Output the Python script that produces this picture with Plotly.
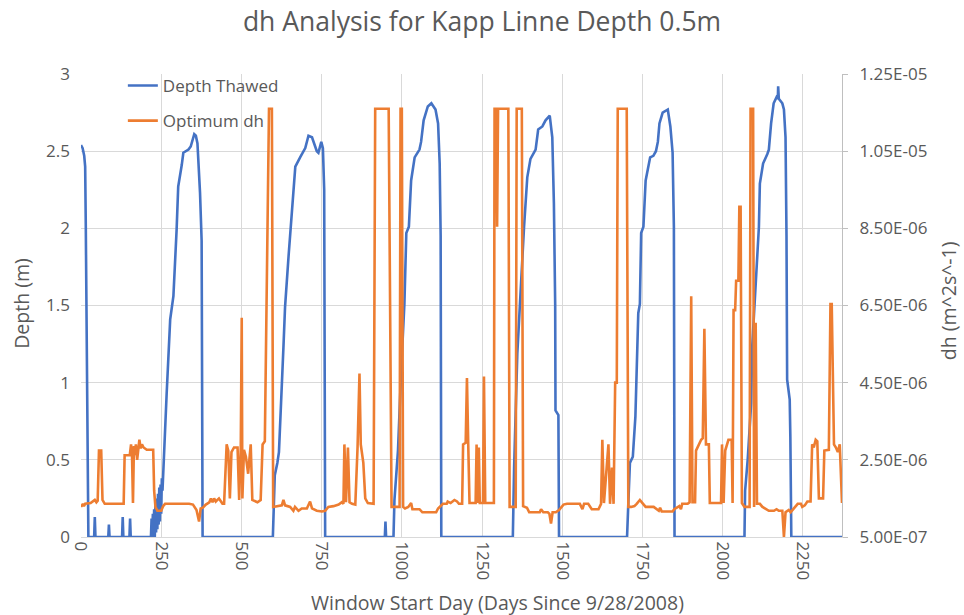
import plotly.graph_objects as go

# Depth thawed (m) against window start day
depth_day = [0, 5, 10, 13, 15, 17, 19, 20, 23, 41, 43, 45, 85, 87, 89, 128, 130, 132, 151, 153, 155,
             218, 220, 222, 224, 226, 228, 230, 232, 234, 236, 238, 240, 242, 244, 246, 248, 250, 252, 254, 257,
             267, 278, 288, 298, 303, 314, 319, 335, 342, 353, 358, 363, 371, 376, 379,
             598, 601, 604, 612, 617, 631, 636, 647, 657, 668, 683, 699, 709, 720, 735, 740, 749, 754, 758, 761,
             947, 949, 951, 974, 977, 988, 998, 1008, 1014, 1022, 1029, 1040, 1055, 1060, 1068, 1081, 1092,
             1105, 1113, 1118, 1121, 1123,
             1346, 1350, 1360, 1370, 1381, 1391, 1401, 1417, 1425, 1438, 1448, 1461, 1469, 1474, 1478, 1479,
             1488, 1490,
             1702, 1706, 1711, 1720, 1728, 1737, 1742, 1746, 1753, 1760, 1774, 1784, 1792, 1798, 1803, 1813,
             1829, 1837, 1844, 1848, 1850,
             2068, 2070, 2078, 2089, 2092, 2102, 2113, 2116, 2126, 2139, 2144, 2151, 2159, 2168, 2172, 2173,
             2175, 2186, 2191, 2196, 2199, 2201, 2209, 2211, 2214, 2372]
depth_m = [2.54, 2.52, 2.47, 2.40, 2.0, 1.4, 0.8, 0.46, 0, 0, 0.13, 0, 0, 0.08, 0, 0, 0.13, 0, 0, 0.12, 0,
           0, 0.12, 0, 0.15, 0.02, 0.18, 0, 0.22, 0.03, 0.25, 0.05, 0.28, 0.08, 0.32, 0.10, 0.34, 0.15, 0.38, 0.30, 0.46,
           0.93, 1.41, 1.56, 1.99, 2.27, 2.41, 2.49, 2.51, 2.53, 2.61, 2.60, 2.55, 2.23, 1.92, 0,
           0, 0.15, 0.40, 0.48, 0.55, 1.23, 1.49, 1.82, 2.12, 2.40, 2.46, 2.52, 2.60, 2.59, 2.50, 2.49, 2.56, 2.52, 2.25, 0,
           0, 0.10, 0, 0, 0.24, 0.56, 1.08, 1.51, 1.97, 2.01, 2.31, 2.46, 2.51, 2.56, 2.70, 2.79, 2.81,
           2.77, 2.68, 2.42, 1.95, 0,
           0, 0.45, 1.19, 1.60, 2.01, 2.33, 2.45, 2.51, 2.64, 2.66, 2.70, 2.73, 2.59, 2.16, 1.51, 0.82,
           0.79, 0,
           0, 0.22, 0.48, 0.52, 0.78, 1.45, 1.51, 1.97, 2.01, 2.31, 2.46, 2.47, 2.50, 2.56, 2.68, 2.75,
           2.77, 2.66, 2.49, 2.01, 0,
           0, 0.30, 0.50, 0.87, 1.23, 1.62, 2.01, 2.29, 2.42, 2.48, 2.51, 2.68, 2.81, 2.85, 2.84, 2.92,
           2.84, 2.81, 2.77, 2.59, 1.95, 1.02, 0.89, 0.65, 0, 0]

# Optimum dh (m^2 s^-1) against window start day
dh_day = [0, 6, 9, 13, 30, 43, 48, 52, 56, 63, 67, 74, 133, 136, 152, 156, 159, 162, 165, 168, 171, 175,
          179, 182, 186, 190, 195, 205, 225, 228, 232, 238, 250, 256, 262, 337, 349, 355, 360, 368, 373, 380,
          389, 400, 405, 410, 415, 420, 425, 430, 441, 446, 454, 459, 464, 469, 477, 488, 493, 498, 501, 503,
          508, 514, 521, 529, 534, 550, 560, 566, 573, 580, 586, 595, 599,
          626, 631, 636, 652, 662, 667, 678, 688, 704, 714, 720, 735, 751, 761, 771, 787, 803, 813, 818,
          821, 826, 832, 837, 845, 855, 862, 868, 872, 880, 886, 894, 912, 917, 959, 968, 993, 996, 1000,
          1004, 1010, 1020, 1029, 1033, 1055, 1064, 1107, 1113, 1128, 1140, 1143, 1152, 1164, 1172, 1178,
          1188, 1191, 1199, 1203, 1207, 1211, 1230, 1233, 1236, 1240, 1243, 1253, 1256, 1260, 1287, 1289,
          1294, 1297, 1300, 1332, 1336, 1355, 1358, 1374, 1378, 1390, 1397, 1430, 1434, 1441, 1455, 1460,
          1465, 1470, 1480, 1490, 1504, 1515, 1555, 1563, 1568, 1581, 1592, 1613, 1621, 1625, 1630, 1637,
          1644, 1649, 1655, 1660, 1665, 1670, 1673, 1701, 1706, 1715, 1725, 1732, 1742, 1750, 1760, 1785,
          1795, 1801, 1805, 1810, 1844, 1849, 1865, 1870, 1874, 1891, 1897, 1902, 1906, 1914, 1917, 1925,
          1933, 1938, 1943, 1948, 1957, 1960, 1995, 1998, 2003, 2008, 2018, 2028, 2031, 2034, 2039, 2042,
          2049, 2052, 2056, 2060, 2068, 2084, 2087, 2095, 2098, 2100, 2103, 2107, 2116, 2124, 2144, 2160,
          2168, 2175, 2186, 2191, 2196, 2206, 2212, 2222, 2234, 2244, 2248, 2256, 2264, 2274, 2279, 2284,
          2290, 2295, 2300, 2313, 2317, 2331, 2336, 2340, 2347, 2353, 2359, 2365, 2372]
dh_val = [1.28e-6, 1.36e-6, 1.30e-6, 1.36e-6, 1.38e-6, 1.46e-6, 1.40e-6, 1.44e-6, 2.74e-6, 2.74e-6,
          1.46e-6, 1.36e-6, 1.36e-6, 2.62e-6, 2.62e-6, 2.90e-6, 2.62e-6, 1.38e-6, 2.86e-6, 2.62e-6,
          2.90e-6, 2.50e-6, 2.80e-6, 3.02e-6, 2.80e-6, 2.90e-6, 2.82e-6, 2.76e-6, 2.76e-6, 1.70e-6,
          1.28e-6, 1.18e-6, 1.18e-6, 1.30e-6, 1.36e-6, 1.36e-6, 1.34e-6, 1.28e-6, 1.20e-6, 9.0e-7,
          1.24e-6, 1.26e-6, 1.34e-6, 1.40e-6, 1.50e-6, 1.40e-6, 1.50e-6, 1.42e-6, 1.46e-6, 1.50e-6,
          1.36e-6, 1.36e-6, 2.90e-6, 2.74e-6, 1.50e-6, 2.70e-6, 2.82e-6, 2.82e-6, 1.46e-6, 2.82e-6,
          6.18e-6, 1.50e-6, 2.76e-6, 2.58e-6, 2.14e-6, 2.90e-6, 1.46e-6, 1.40e-6, 1.46e-6, 2.90e-6,
          2.98e-6, 7.42e-6, 1.16e-5, 1.16e-5, 1.28e-6,
          1.32e-6, 1.46e-6, 1.32e-6, 1.28e-6, 1.18e-6, 1.28e-6, 1.18e-6, 1.24e-6, 1.24e-6, 1.42e-6,
          1.24e-6, 1.18e-6, 1.16e-6, 1.18e-6, 1.28e-6, 1.30e-6, 1.34e-6, 1.40e-6, 1.36e-6,
          2.90e-6, 1.40e-6, 2.82e-6, 1.40e-6, 1.36e-6, 1.34e-6, 2.82e-6, 4.74e-6, 2.90e-6, 2.42e-6,
          1.50e-6, 1.38e-6, 1.36e-6, 1.16e-5, 1.16e-5, 1.28e-6, 1.28e-6, 1.16e-5, 1.16e-5,
          1.28e-6, 1.24e-6, 1.28e-6, 1.38e-6, 1.22e-6, 1.22e-6, 1.14e-6, 1.14e-6, 1.24e-6, 1.36e-6,
          1.36e-6, 1.42e-6, 1.38e-6, 1.46e-6, 1.42e-6, 1.36e-6,
          1.36e-6, 2.90e-6, 2.94e-6, 4.62e-6, 2.90e-6, 1.38e-6, 1.38e-6, 2.90e-6, 1.38e-6, 2.82e-6,
          1.38e-6, 1.38e-6, 4.66e-6, 1.38e-6, 1.38e-6, 1.16e-5,
          1.16e-5, 8.54e-6, 1.16e-5, 1.16e-5, 1.28e-6, 1.28e-6, 1.16e-5, 1.16e-5, 1.30e-6, 1.26e-6,
          1.14e-6, 1.14e-6, 1.22e-6, 1.14e-6, 1.14e-6, 1.10e-6,
          8.5e-7, 1.14e-6, 1.14e-6, 1.20e-6, 1.34e-6, 1.36e-6, 1.36e-6, 1.22e-6, 1.36e-6, 1.36e-6,
          1.22e-6, 1.22e-6, 1.36e-6, 3.02e-6, 1.38e-6, 2.06e-6,
          2.90e-6, 1.36e-6, 2.30e-6, 1.36e-6, 4.50e-6, 4.50e-6, 1.16e-5, 1.16e-5, 1.28e-6, 1.28e-6,
          1.30e-6, 1.36e-6, 1.46e-6, 1.38e-6, 1.28e-6, 1.28e-6,
          1.22e-6, 1.18e-6, 1.26e-6, 1.16e-6, 1.16e-6, 1.22e-6, 1.30e-6, 1.22e-6, 1.36e-6, 1.36e-6,
          1.40e-6, 6.74e-6, 1.40e-6, 1.40e-6, 2.74e-6, 2.90e-6,
          3.02e-6, 3.06e-6, 5.90e-6, 2.90e-6, 2.90e-6, 1.38e-6, 1.38e-6, 2.90e-6, 1.38e-6, 2.74e-6,
          3.02e-6, 3.02e-6, 1.38e-6, 6.38e-6, 6.38e-6, 7.14e-6,
          7.14e-6, 9.06e-6, 9.06e-6, 1.38e-6, 1.28e-6, 1.28e-6, 1.16e-5, 1.16e-5, 1.28e-6, 6.02e-6,
          6.02e-6, 1.36e-6, 1.36e-6, 1.28e-6, 1.18e-6, 1.18e-6,
          1.22e-6, 1.18e-6, 1.18e-6, 5.0e-7, 1.14e-6, 1.20e-6, 1.14e-6, 1.24e-6, 1.36e-6, 1.36e-6,
          1.28e-6, 1.32e-6, 1.42e-6, 1.42e-6, 2.90e-6, 2.82e-6,
          3.02e-6, 2.98e-6, 1.50e-6, 1.50e-6, 2.74e-6, 2.76e-6, 6.54e-6, 6.54e-6, 2.90e-6, 2.82e-6,
          2.70e-6, 2.90e-6, 1.38e-6]

# Axis ticks
x_ticks = [0, 250, 500, 750, 1000, 1250, 1500, 1750, 2000, 2250]
depth_ticks = [0, 0.5, 1, 1.5, 2, 2.5, 3]
dh_ticks = [5.0e-7, 2.5e-6, 4.5e-6, 6.5e-6, 8.5e-6, 1.05e-5, 1.25e-5]
dh_tick_text = ["5.00E-07", "2.50E-06", "4.50E-06", "6.50E-06", "8.50E-06", "1.05E-05", "1.25E-05"]

BLUE = "#4472C4"
ORANGE = "#ED7D31"
TXT = "#595959"
GRID = "#D9D9D9"
FONT = "Open Sans, Noto Sans, sans-serif"

fig = go.Figure()
fig.add_trace(go.Scatter(x=depth_day, y=depth_m, mode="lines", name="Depth Thawed",
                         line=dict(color=BLUE, width=2.6), legendgroup="a"))
fig.add_trace(go.Scatter(x=dh_day, y=dh_val, mode="lines", name="Optimum dh",
                         line=dict(color=ORANGE, width=2.6), yaxis="y2", legendgroup="b"))

fig.update_layout(
    width=964, height=615,
    margin=dict(l=81, r=122, t=74, b=78),
    paper_bgcolor="white", plot_bgcolor="white",
    font=dict(family=FONT, color=TXT, size=16),
    title=dict(text="dh Analysis for Kapp Linne Depth 0.5m", x=0.5, xanchor="center",
               y=0.965, yanchor="middle", font=dict(size=26.5, color=TXT)),
    xaxis=dict(range=[0, 2372], tickvals=x_ticks, tickangle=90, showgrid=True, gridcolor=GRID,
               gridwidth=1, zeroline=False, showline=True, linecolor=GRID, ticks="",
               tickfont=dict(size=17)),
    yaxis=dict(range=[0, 3], tickvals=depth_ticks, showgrid=True, gridcolor=GRID, zeroline=False,
               showline=False, ticks="", tickfont=dict(size=17), ticklabelstandoff=10),
    yaxis2=dict(range=[5.0e-7, 1.25e-5], tickvals=dh_ticks, ticktext=dh_tick_text, overlaying="y",
                side="right", showgrid=False, zeroline=False, showline=True, linecolor="#BFBFBF",
                ticks="outside", ticklen=5, tickcolor="#BFBFBF", tickfont=dict(size=17),
                ticklabelstandoff=8),
    legend=dict(x=0.055, y=1.013, xanchor="left", yanchor="top", bgcolor="rgba(0,0,0,0)",
                font=dict(size=17, color=TXT), tracegroupgap=10),
    showlegend=True,
    annotations=[
        dict(text="Window Start Day (Days Since 9/28/2008)", xref="paper", yref="paper",
             x=0.547, y=-0.1425, xanchor="center", yanchor="middle", showarrow=False,
             font=dict(size=19.5, color=TXT)),
        dict(text="Depth (m)", xref="paper", yref="paper", x=-0.078, y=0.505, textangle=-90,
             xanchor="center", yanchor="middle", showarrow=False, font=dict(size=19.5, color=TXT)),
        dict(text="dh (m^2s^-1)", xref="paper", yref="paper", x=1.141, y=0.51, textangle=-90,
             xanchor="center", yanchor="middle", showarrow=False, font=dict(size=19.5, color=TXT)),
    ],
)

fig.write_html("out.html")
